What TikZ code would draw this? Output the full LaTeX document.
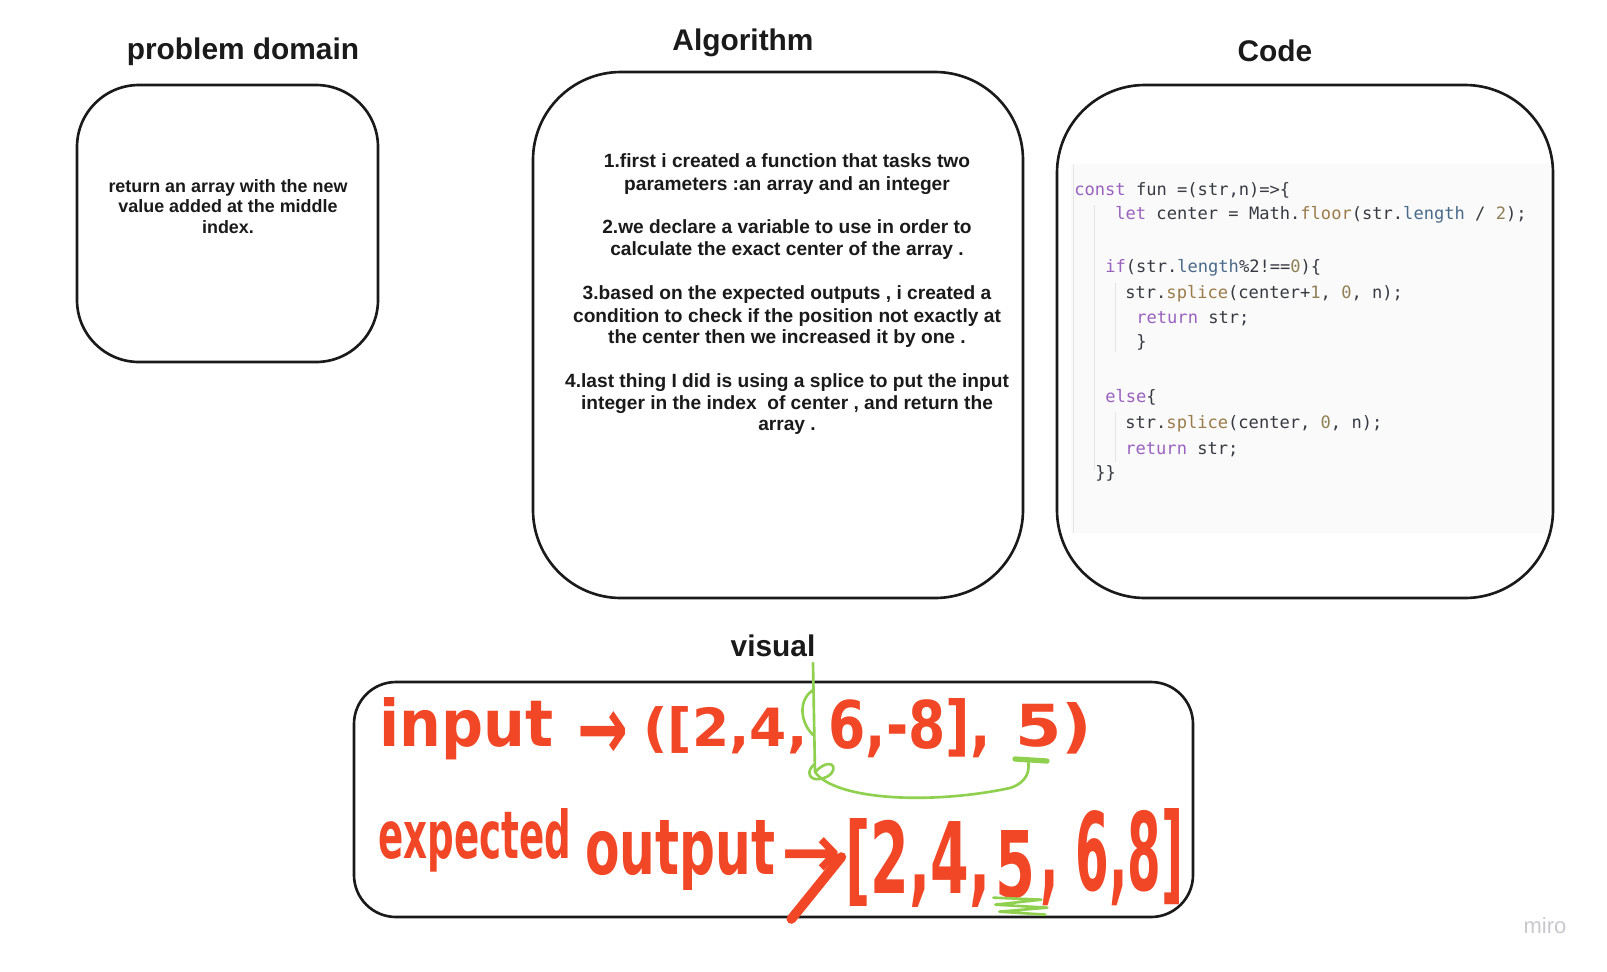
\documentclass[tikz,border=0pt]{standalone}
\usepackage{fontspec}
\usepackage{graphicx}
\setmainfont{Liberation Sans}
\newfontfamily\codefont{DejaVu Sans Mono}
\newfontfamily\handfont{DejaVu Sans}
\usetikzlibrary{positioning}

\definecolor{boxline}{HTML}{1A1A1A}
\definecolor{inkred}{HTML}{F24726}
\definecolor{inkgreen}{HTML}{8FD14F}
\definecolor{kwpurple}{HTML}{9A62BE}
\definecolor{fnbrown}{HTML}{9C7B4B}
\definecolor{numolive}{HTML}{8E7F55}
\definecolor{propblue}{HTML}{4A6A8A}
\definecolor{codetext}{HTML}{383A42}
\definecolor{codebg}{HTML}{FAFAFA}
\definecolor{guide}{HTML}{E4E4E4}
\definecolor{logogray}{HTML}{C8C8CE}

\newlength\pxu
\setlength\pxu{0.02cm}
\newcommand\kwd[1]{\textcolor{kwpurple}{#1}}
\newcommand\fnc[1]{\textcolor{fnbrown}{#1}}
\newcommand\numb[1]{\textcolor{numolive}{#1}}
\newcommand\prp[1]{\textcolor{propblue}{#1}}
% handwriting: squeeze a word into the box it fills on the board
\newcommand\hw[3]{\resizebox{#1\pxu}{#2\pxu}{#3}}
\newcommand\hwt[3]{\resizebox*{#1\pxu}{#2\pxu}{#3}}

\begin{document}
\begin{tikzpicture}[x=0.02cm,y=-0.02cm,
    box/.style={draw=boxline, line width=1.5pt, rounded corners=#1\pxu, inner sep=0},
    title/.style={font=\fontsize{17}{20}\selectfont\bfseries, text=boxline, anchor=base, inner sep=0},
    algline/.style={font=\fontsize{10.9}{13}\selectfont\bfseries, text=boxline, anchor=base, inner sep=0},
    probline/.style={font=\fontsize{10.2}{12}\selectfont\bfseries, text=boxline, anchor=base, inner sep=0},
    codeline/.style={font=\codefont\fontsize{9.72}{12}\selectfont, text=codetext, anchor=base west, inner sep=0},
    hand/.style={text=inkred, anchor=base west, inner sep=0, font=\handfont\bfseries},
    greenmark/.style={draw=inkgreen, line width=1.5pt, line cap=round, line join=round}]
  \useasboundingbox[fill=white] (0,0) rectangle (1607,971);

  % titles
  \node[title] (probtitle) at (243,59) {problem domain};
  \node[title] (algtitle) at (743,50) {Algorithm};
  \node[title] (codetitle) at (1275,61) {Code};
  \node[title] (vistitle) at (773,656) {visual};

  % problem domain
  \node[box=62, minimum width=301\pxu, minimum height=277\pxu] (probbox) at (227.5,223.5) {};
  \foreach \py/\ptxt [count=\i] in {192/{return an array with the new},212/{value added at the middle},233/{index.}}
    \node[probline] (prob-\i) at (228,\py) {\ptxt};

  % algorithm
  \node[box=88, minimum width=490\pxu, minimum height=526\pxu] (algbox) at (778,335) {};
  \foreach \ay/\atxt [count=\i] in {
      167/{1.first i created a function that tasks two},
      190/{parameters :an array and an integer},
      233/{2.we declare a variable to use in order to},
      255/{calculate the exact center of the array .},
      299/{3.based on the expected outputs , i created a},
      322/{condition to check if the position not exactly at},
      343/{the center then we increased it by one .},
      387/{4.last thing I did is using a splice to put the input},
      409/{integer in the index\ \ of center , and return the},
      430/{array .}}
    \node[algline] (alg-\i) at (787,\ay) {\atxt};

  % code
  \fill[codebg] (1071,164) rectangle (1550,533);
  \draw[guide] (1073,165) -- (1073,533);
  \draw[guide] (1094,205) -- (1094,470);
  \draw[guide] (1115,283) -- (1115,352);
  \draw[guide] (1115,412) -- (1115,462);
  \node[box=88, minimum width=496\pxu, minimum height=513\pxu] (codebox) at (1305,341.5) {};
  \foreach \cx/\cy/\ctxt [count=\i] in {
      1074/195/{\kwd{const} fun =(str,n)=>\{},
      1115/219/{\kwd{let} center = Math.\fnc{floor}(str.\prp{length} / \numb{2});},
      1105/272/{\kwd{if}(str.\prp{length}\%2!==\numb{0})\{},
      1125/298/{str.\fnc{splice}(center+\numb{1}, \numb{0}, n);},
      1136/323/{\kwd{return} str;},
      1136/347/{\}},
      1105/402/{\kwd{else}\{},
      1125/428/{str.\fnc{splice}(center, \numb{0}, n);},
      1125/454/{\kwd{return} str;},
      1095/478/{\}\}}}
    \node[codeline] (code-\i) at (\cx,\cy) {\ctxt};

  % visual
  \node[box=42, minimum width=839\pxu, minimum height=235\pxu] (visbox) at (773.5,799.5) {};
  \node[hand] (inp) at (379,746) {\hw{174}{49}{input}};
  \node[hand, anchor=center] (inarr) at (603,735) {\hwt{51}{48}{→}};
  \node[hand] (inlist) at (643,746) {\hw{164}{40}{([2,4,}};
  \node[hand] (inrest) at (828,748) {\hw{162}{50}{6,-8],}};
  \node[hand] (inval) at (1015,746) {\hw{77}{44}{5)}};
  \node[hand] (exp) at (378,858) {\hw{193}{50}{expected}};
  \node[hand] (out) at (585,874) {\hw{190}{54}{output}};
  \node[hand, anchor=center] (outarr) at (811,857) {\hwt{60}{40}{→}};
  \node[hand] (outlist) at (845,893) {\hw{145}{75}{[2,4,}};
  \node[hand] (outval) at (995,897) {\hw{40}{67}{5}};
  \node[hand] (outrest) at (1040,890) {\hw{143}{82}{, 6,8]}};
  \draw[inkred, line width=5.5pt, line cap=round] (outarr.east) -- ++(-50,62);

  % green marks
  \coordinate (cutTop) at (813,663);
  \coordinate (cutBot) at (815,772);
  \coordinate (valMark) at (1028,760);
  \draw[greenmark] (cutTop) -- (cutBot);
  \draw[greenmark] (813,690) .. controls (798,700) and (800,722) .. (813,735);
  \draw[greenmark] (cutBot) .. controls (835,752) and (842,775) .. (820,779) .. controls (808,781) and (806,770) .. (815,764);
  \draw[greenmark] (cutBot) .. controls (835,800) and (930,805) .. (1010,788) .. controls (1028,782) and (1030,770) .. (valMark);
  \draw[greenmark, line width=3pt] (valMark) +(-13,-1) -- +(19,1);
  \draw[greenmark] (outval.south) ++(-22,-1) -- ++(48,2) -- ++(-46,5) -- ++(52,3) -- ++(-48,4) -- ++(46,3);

  \node[font=\fontsize{12.5}{14}\selectfont, text=logogray, anchor=base, inner sep=0] (logo) at (1545,933) {miro};
\end{tikzpicture}
\end{document}
